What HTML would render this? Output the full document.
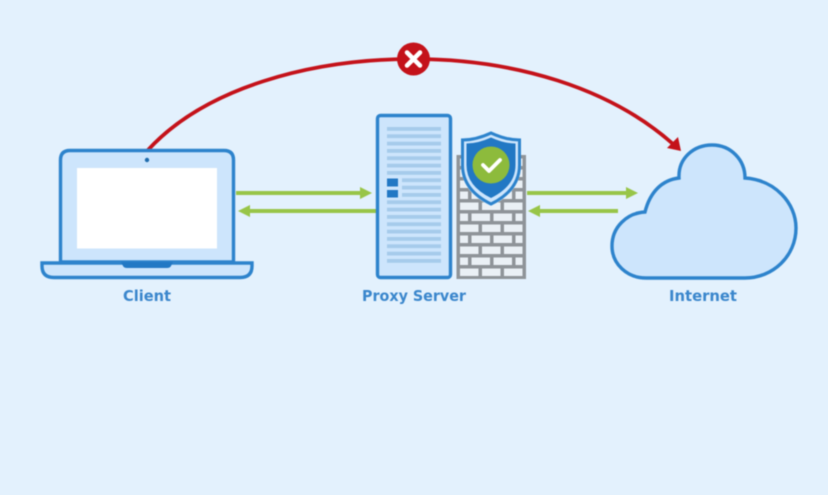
<!DOCTYPE html>
<html>
<head>
<meta charset="utf-8">
<style>
html,body{margin:0;padding:0;background:#e3f1fd;}
svg{display:block;}
text{font-family:"DejaVu Sans",sans-serif;font-weight:bold;font-size:15px;fill:#3a86cc;text-anchor:middle;}
</style>
</head>
<body>
<svg width="828" height="495" viewBox="0 0 828 495" xmlns="http://www.w3.org/2000/svg">
<rect width="828" height="495" fill="#e3f1fd"/>
<g style="filter:blur(0.5px)">
<!-- red arc -->
<path d="M148 150 C205 88 310 59 413 59 C515 59 610 88 673 144" fill="none" stroke="#c4121a" stroke-width="3.800"/>
<polygon points="681,151 667,148 678,137" fill="#c4121a"/>
<circle cx="413.500" cy="59" r="16.500" fill="#c4121a"/>
<path d="M407 52.500 L420 65.500 M420 52.500 L407 65.500" stroke="#fff" stroke-width="4.500" stroke-linecap="round"/>

<!-- laptop -->
<path d="M60.500 262 V160 Q60.500 150.500 70 150.500 H224 Q233.500 150.500 233.500 160 V262 Z" fill="#cde5fc" stroke="#2d83cc" stroke-width="3.400"/>
<rect x="77" y="168" width="140" height="80.500" fill="#fff"/>
<circle cx="147" cy="160" r="2.200" fill="#1f6cad"/>
<path d="M42 263 H252 V266 Q252 277.500 240 277.500 H54 Q42 277.500 42 266 Z" fill="#cde5fc" stroke="#2d83cc" stroke-width="3.400"/>
<path d="M121 262 H173 L171 266 Q170 268 167 268 H127 Q124 268 123 266 Z" fill="#2278c4"/>

<!-- green arrows -->
<g fill="#98c548">
<rect x="236" y="191" width="128" height="4"/>
<polygon points="372,193 360,187 360,199"/>
<rect x="248" y="209" width="128" height="4"/>
<polygon points="238,211 250,205 250,217"/>
<rect x="527" y="191" width="103" height="4"/>
<polygon points="638,193 626,187 626,199"/>
<rect x="538" y="209" width="80" height="4"/>
<polygon points="528,211 540,205 540,217"/>
</g>

<!-- server -->
<rect x="377.500" y="115.500" width="73" height="162" rx="3" fill="#cde5fc" stroke="#2d83cc" stroke-width="3.400"/>
<g fill="#a6cbeb">
<rect x="387" y="127" width="54" height="3.800"/>
<rect x="387" y="134.300" width="54" height="3.800"/>
<rect x="387" y="141.700" width="54" height="3.800"/>
<rect x="387" y="149" width="54" height="3.800"/>
<rect x="387" y="156.300" width="54" height="3.800"/>
<rect x="387" y="163.700" width="54" height="3.800"/>
<rect x="387" y="171" width="54" height="3.800"/>
<rect x="402" y="178.300" width="39" height="3.800"/>
<rect x="402" y="185.700" width="39" height="3.800"/>
<rect x="402" y="193" width="39" height="3.800"/>
<rect x="387" y="200.300" width="54" height="3.800"/>
<rect x="387" y="207.700" width="54" height="3.800"/>
<rect x="387" y="215" width="54" height="3.800"/>
<rect x="387" y="222.300" width="54" height="3.800"/>
<rect x="387" y="229.700" width="54" height="3.800"/>
<rect x="387" y="237" width="54" height="3.800"/>
<rect x="387" y="244.300" width="54" height="3.800"/>
<rect x="387" y="251.700" width="54" height="3.800"/>
<rect x="387" y="259" width="54" height="3.800"/>
</g>
<rect x="387" y="178.500" width="11" height="8" fill="#2278c4"/>
<rect x="387" y="190" width="11" height="7.500" fill="#2278c4"/>

<!-- wall -->
<rect x="456.500" y="155" width="69.500" height="124" fill="#8f9499"/>
<g fill="#eaf0f5">
<rect x="460" y="158.500" width="18.500" height="7.500"/><rect x="482" y="158.500" width="18.500" height="7.500"/><rect x="504" y="158.500" width="18.500" height="7.500"/>
<rect x="460" y="169.500" width="8" height="7.500"/><rect x="471.500" y="169.500" width="18.500" height="7.500"/><rect x="493.500" y="169.500" width="18.500" height="7.500"/><rect x="515.500" y="169.500" width="7" height="7.500"/>
<rect x="460" y="180.500" width="18.500" height="7.500"/><rect x="482" y="180.500" width="18.500" height="7.500"/><rect x="504" y="180.500" width="18.500" height="7.500"/>
<rect x="460" y="191.500" width="8" height="7.500"/><rect x="471.500" y="191.500" width="18.500" height="7.500"/><rect x="493.500" y="191.500" width="18.500" height="7.500"/><rect x="515.500" y="191.500" width="7" height="7.500"/>
<rect x="460" y="202.500" width="18.500" height="7.500"/><rect x="482" y="202.500" width="18.500" height="7.500"/><rect x="504" y="202.500" width="18.500" height="7.500"/>
<rect x="460" y="213.500" width="8" height="7.500"/><rect x="471.500" y="213.500" width="18.500" height="7.500"/><rect x="493.500" y="213.500" width="18.500" height="7.500"/><rect x="515.500" y="213.500" width="7" height="7.500"/>
<rect x="460" y="224.500" width="18.500" height="7.500"/><rect x="482" y="224.500" width="18.500" height="7.500"/><rect x="504" y="224.500" width="18.500" height="7.500"/>
<rect x="460" y="235.500" width="8" height="7.500"/><rect x="471.500" y="235.500" width="18.500" height="7.500"/><rect x="493.500" y="235.500" width="18.500" height="7.500"/><rect x="515.500" y="235.500" width="7" height="7.500"/>
<rect x="460" y="246.500" width="18.500" height="7.500"/><rect x="482" y="246.500" width="18.500" height="7.500"/><rect x="504" y="246.500" width="18.500" height="7.500"/>
<rect x="460" y="257.500" width="8" height="7.500"/><rect x="471.500" y="257.500" width="18.500" height="7.500"/><rect x="493.500" y="257.500" width="18.500" height="7.500"/><rect x="515.500" y="257.500" width="7" height="7.500"/>
<rect x="460" y="268.500" width="18.500" height="7.500"/><rect x="482" y="268.500" width="18.500" height="7.500"/><rect x="504" y="268.500" width="18.500" height="7.500"/>
</g>

<!-- shield -->
<path d="M491 131 Q506 138 521 138 V165 Q521 192 491 206 Q461 192 461 165 V138 Q476 138 491 131 Z" fill="#cde5fc"/>
<path d="M491 133 Q506 140 519.500 140 V165 Q519.500 190 491 204 Q462.500 190 462.500 165 V140 Q476 140 491 133 Z" fill="none" stroke="#2d83cc" stroke-width="3"/>
<path d="M491 137.500 Q504 143.500 515.500 143.500 V165 Q515.500 186 491 198 Q466.500 186 466.500 165 V143.500 Q478 143.500 491 137.500 Z" fill="#2278c4"/>
<circle cx="491" cy="165" r="18.500" fill="#8dbb3c"/>
<path d="M483 165 L489 171 L500 160" fill="none" stroke="#fff" stroke-width="3.800" stroke-linecap="round" stroke-linejoin="round"/>

<!-- cloud -->
<path d="M645 212 C650 192 662 180 679 178 C678 158 694 145 712 145 C731 145 745 160 745 178 C775 180 796 203 796 228 C796 256 773 278 745 278 L646 278 C627 278 612 264 612 246 C612 227 627 213 645 212 Z" fill="#cde5fc" stroke="#2d83cc" stroke-width="3.400"/>

<!-- labels -->
<text x="147" y="301" textLength="48" lengthAdjust="spacingAndGlyphs">Client</text>
<text x="414" y="301" textLength="104" lengthAdjust="spacingAndGlyphs">Proxy Server</text>
<text x="703" y="301" textLength="68" lengthAdjust="spacingAndGlyphs">Internet</text>
</g>
</svg>
</body>
</html>
